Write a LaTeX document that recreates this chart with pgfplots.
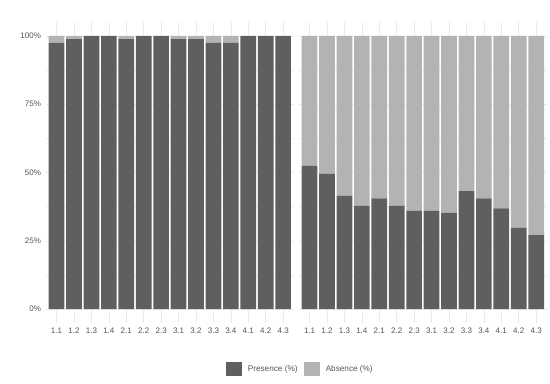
\documentclass[border=0pt]{standalone}
\usepackage{fontspec}
\setmainfont{Liberation Sans}
\usepackage{pgfplots}
\pgfplotsset{compat=1.18}
\definecolor{darkbar}{HTML}{5F5F5F}
\definecolor{lightbar}{HTML}{B3B3B3}
\definecolor{txt}{HTML}{555555}
\definecolor{gridc}{HTML}{EBEBEB}
\pgfplotsset{
  facet/.style={
    scale only axis,
    width=247.5bp, height=300.4bp,
    xmin=0.4, xmax=14.6, ymin=-5, ymax=105,
    ybar stacked, bar width=0.9,
    xtick={1,...,14},
    xticklabels={1.1,1.2,1.3,1.4,2.1,2.2,2.3,3.1,3.2,3.3,3.4,4.1,4.2,4.3},
    ytick={0,25,50,75,100},
    minor ytick={12.5,37.5,62.5,87.5},
    xmajorgrids, ymajorgrids, yminorgrids,
    major grid style={gridc, line width=0.5bp},
    minor grid style={gridc, line width=0.3bp},
    axis line style={draw=none},
    tick style={draw=none},
    major tick length=0pt, minor tick length=0pt,
    xticklabel style={anchor=north, inner sep=0pt, yshift=-5bp, text=txt, font=\fontsize{8bp}{9bp}\selectfont},
    yticklabel style={anchor=east, inner sep=0pt, xshift=-5bp, text=txt, font=\fontsize{8bp}{9bp}\selectfont},
    legend image code/.code={\fill[##1, draw=none] (0bp,-7bp) rectangle (15.5bp,7bp);},
  },
}
\begin{document}
\begin{tikzpicture}[x=1bp,y=1bp]
\useasboundingbox (0,0) rectangle (550,383);
\begin{axis}[facet, at={(46.1bp,60.3bp)}, anchor=south west,
  yticklabels={0\%,25\%,50\%,75\%,100\%},
  legend columns=2,
  legend style={draw=none, fill=none, at={(1.024,-0.154)}, anchor=center,
    nodes={inner sep=0pt, text=txt, font=\fontsize{8.2bp}{9bp}\selectfont},
    /tikz/every odd column/.append style={column sep=6bp},
    /tikz/every even column/.append style={column sep=6.7bp}},
]
\addplot[fill=darkbar, draw=none] coordinates {
(1,97.5) (2,98.8) (3,100) (4,100) (5,98.8) (6,100) (7,100)
(8,98.8) (9,98.8) (10,97.5) (11,97.5) (12,100) (13,100) (14,100)};
\addlegendentry{Presence (\%)}
\addplot[fill=lightbar, draw=none] coordinates {
(1,2.5) (2,1.2) (3,0) (4,0) (5,1.2) (6,0) (7,0)
(8,1.2) (9,1.2) (10,2.5) (11,2.5) (12,0) (13,0) (14,0)};
\addlegendentry{Absence (\%)}
\node[anchor=base, text=txt, font=\fontsize{8.2bp}{9bp}\selectfont, inner sep=0pt] at (rel axis cs:0.5,1) [yshift=4bp] {Men};
\end{axis}
\begin{axis}[facet, at={(299.1bp,60.3bp)}, anchor=south west,
  yticklabels={},
]
\addplot[fill=darkbar, draw=none] coordinates {
(1,52.4) (2,49.6) (3,41.4) (4,37.8) (5,40.5) (6,37.8) (7,36.0)
(8,36.0) (9,35.2) (10,43.2) (11,40.5) (12,36.9) (13,29.8) (14,27.1)};
\addplot[fill=lightbar, draw=none] coordinates {
(1,47.6) (2,50.4) (3,58.6) (4,62.2) (5,59.5) (6,62.2) (7,64.0)
(8,64.0) (9,64.8) (10,56.8) (11,59.5) (12,63.1) (13,70.2) (14,72.9)};
\node[anchor=base, text=txt, font=\fontsize{8.2bp}{9bp}\selectfont, inner sep=0pt] at (rel axis cs:0.5,1) [yshift=4bp] {Women};
\end{axis}
\end{tikzpicture}
\end{document}
